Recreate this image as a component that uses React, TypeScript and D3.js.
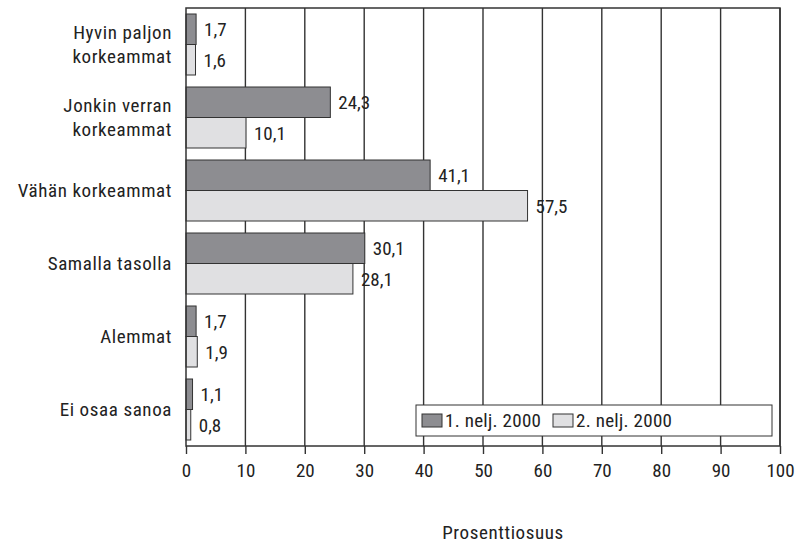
import React, { useEffect, useRef } from "react";
import * as d3 from "d3";

// categories, top to bottom
const categories = [
  "Hyvin paljon\nkorkeammat",
  "Jonkin verran\nkorkeammat",
  "Vähän korkeammat",
  "Samalla tasolla",
  "Alemmat",
  "Ei osaa sanoa"
];
const seriesNames = ["1. nelj. 2000", "2. nelj. 2000"];
const q1Values = [1.7, 24.3, 41.1, 30.1, 1.7, 1.1];
const q2Values = [1.6, 10.1, 57.5, 28.1, 1.9, 0.8];
const xTicks = [0, 10, 20, 30, 40, 50, 60, 70, 80, 90, 100];

const FONT = "'Liberation Sans Narrow', 'Arial Narrow', 'Roboto Condensed', sans-serif";
const FS = 19;
const LS = "0.6px";
const colors = ["#8d8d91", "#e0e0e2"];

const App: React.FC = () => {
  const svgRef = useRef<SVGSVGElement>(null);

  useEffect(() => {
    if (!svgRef.current) return;
    const width = 795;
    const height = 545;
    const svg = d3.select(svgRef.current);
    svg.selectAll("*").remove();
    svg.attr("width", width).attr("height", height);

    const left = 186, right = 780, top = 8, bottom = 446;

    const x = d3.scaleLinear().domain([0, 100]).range([left, right]);
    const y = d3.scaleBand<number>()
      .domain(d3.range(categories.length))
      .range([top, bottom])
      .paddingInner(12 / 73)
      .paddingOuter(6 / 73);
    const sub = d3.scaleBand<number>().domain([0, 1]).range([0, y.bandwidth()]);

    svg.append("rect")
      .attr("width", width).attr("height", height).attr("fill", "#ffffff");

    const g = svg.append("g");

    // vertical grid lines
    g.selectAll(".grid")
      .data(xTicks.slice(1))
      .join("line")
      .attr("x1", d => x(d)).attr("x2", d => x(d))
      .attr("y1", top).attr("y2", bottom)
      .attr("stroke", "#333")
      .attr("stroke-width", 1.4);

    // bars
    const series = [q1Values, q2Values];
    series.forEach((vals, si) => {
      g.selectAll(`.bar${si}`)
        .data(vals)
        .join("rect")
        .attr("x", x(0))
        .attr("y", (_, i) => (y(i) ?? 0) + (sub(si) ?? 0))
        .attr("width", d => x(d) - x(0))
        .attr("height", sub.bandwidth())
        .attr("fill", colors[si])
        .attr("stroke", "#333")
        .attr("stroke-width", 1);

      g.selectAll(`.lab${si}`)
        .data(vals)
        .join("text")
        .attr("x", d => x(d) + 8)
        .attr("y", (_, i) => (y(i) ?? 0) + (sub(si) ?? 0) + sub.bandwidth() / 2)
        .attr("dy", "0.36em")
        .attr("font-family", FONT)
        .attr("font-size", FS)
        .attr("fill", "#222")
        .text(d => d.toFixed(1).replace(".", ","));
    });

    // frame
    g.append("rect")
      .attr("x", left).attr("y", top)
      .attr("width", right - left).attr("height", bottom - top)
      .attr("fill", "none")
      .attr("stroke", "#333")
      .attr("stroke-width", 1.5);

    // x axis
    const xAxis = g.append("g")
      .attr("transform", `translate(0,${bottom})`)
      .call(d3.axisBottom(x).tickValues(xTicks).tickSize(8).tickPadding(10).tickFormat(d => String(d)));
    xAxis.select(".domain").remove();
    xAxis.selectAll("line").attr("stroke", "#333").attr("stroke-width", 1.4);
    xAxis.selectAll("text")
      .attr("font-family", FONT)
      .attr("font-size", FS)
      .attr("fill", "#222");

    // category labels
    categories.forEach((c, i) => {
      const lines = c.split("\n");
      const cy = (y(i) ?? 0) + y.bandwidth() / 2;
      const lh = 24;
      lines.forEach((ln, k) => {
        g.append("text")
          .attr("x", 172)
          .attr("y", cy + (k - (lines.length - 1) / 2) * lh)
          .attr("dy", "0.36em")
          .attr("text-anchor", "end")
          .attr("font-family", FONT)
          .attr("font-size", FS)
          .attr("letter-spacing", LS)
          .attr("fill", "#222")
          .text(ln);
      });
    });

    // legend
    const lg = g.append("g");
    lg.append("rect")
      .attr("x", 416).attr("y", 405).attr("width", 356).attr("height", 31)
      .attr("fill", "#fff").attr("stroke", "#333").attr("stroke-width", 1);
    const legendX = [422, 553];
    seriesNames.forEach((s, i) => {
      lg.append("rect")
        .attr("x", legendX[i]).attr("y", 414).attr("width", 20).attr("height", 13)
        .attr("fill", colors[i]).attr("stroke", "#333").attr("stroke-width", 1);
      lg.append("text")
        .attr("x", legendX[i] + 23).attr("y", 420.5)
        .attr("dy", "0.36em")
        .attr("font-family", FONT)
        .attr("font-size", FS)
        .attr("letter-spacing", "0.3px")
        .attr("fill", "#222")
        .text(s);
    });

    // axis title
    g.append("text")
      .attr("x", 503).attr("y", 532)
      .attr("dy", "0.36em")
      .attr("text-anchor", "middle")
      .attr("font-family", FONT)
      .attr("font-size", FS)
      .attr("letter-spacing", LS)
      .attr("fill", "#222")
      .text("Prosenttiosuus");
  }, []);

  return <svg ref={svgRef} style={{ position: "absolute", left: 0, top: 0, display: "block" }} />;
};

export default App;
